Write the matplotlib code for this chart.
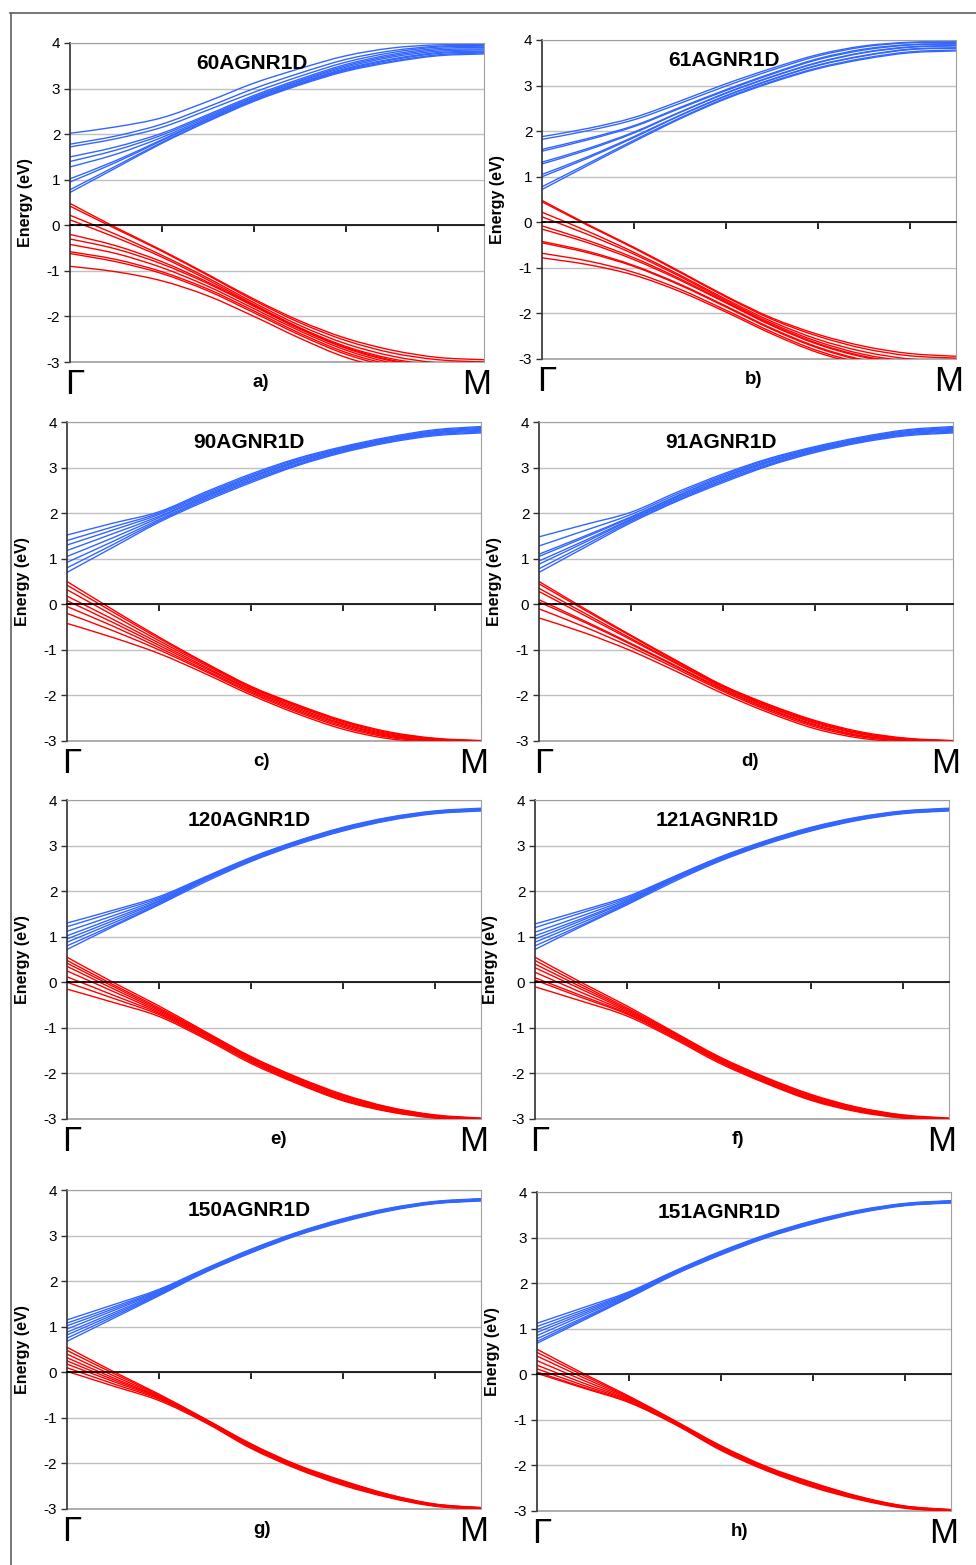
import numpy as np
import matplotlib
matplotlib.use("Agg")
from matplotlib import pyplot as plt
from matplotlib.lines import Line2D
from matplotlib.path import Path
from matplotlib.patches import PathPatch

plt.rcParams['font.family'] = ['Liberation Sans', 'DejaVu Sans']
plt.rcParams['axes.unicode_minus'] = False

# k-path sampling between Gamma and M (tick units)
k = [0.0, 0.5, 1.0, 1.5, 2.0, 2.5, 3.0, 3.5, 4.0, 4.5]

names = ['60AGNR1D', '61AGNR1D', '90AGNR1D', '91AGNR1D',
         '120AGNR1D', '121AGNR1D', '150AGNR1D', '151AGNR1D']
captions = ['a)', 'b)', 'c)', 'd)', 'e)', 'f)', 'g)', 'h)']

# conduction bands (eV), one row per subband
cond_60 = [
    [2.02, 2.16, 2.36, 2.72, 3.12, 3.44, 3.72, 3.89, 3.96, 3.97],
    [1.78, 1.96, 2.22, 2.60, 3.00, 3.34, 3.64, 3.83, 3.93, 3.95],
    [1.72, 1.90, 2.15, 2.53, 2.92, 3.27, 3.58, 3.79, 3.91, 3.93],
    [1.50, 1.72, 2.02, 2.43, 2.85, 3.21, 3.53, 3.75, 3.88, 3.90],
    [1.40, 1.65, 1.98, 2.40, 2.82, 3.18, 3.50, 3.72, 3.85, 3.87],
    [1.28, 1.56, 1.93, 2.37, 2.80, 3.16, 3.47, 3.69, 3.82, 3.85],
    [1.02, 1.42, 1.88, 2.34, 2.77, 3.13, 3.44, 3.65, 3.79, 3.82],
    [0.95, 1.38, 1.86, 2.33, 2.76, 3.12, 3.42, 3.63, 3.77, 3.80],
    [0.78, 1.30, 1.82, 2.30, 2.74, 3.10, 3.40, 3.60, 3.74, 3.78],
    [0.72, 1.26, 1.80, 2.28, 2.72, 3.08, 3.38, 3.58, 3.72, 3.76],
]
val_60 = [
    [0.48, -0.05, -0.55, -1.08, -1.62, -2.10, -2.48, -2.74, -2.90, -2.95],
    [0.42, -0.08, -0.57, -1.10, -1.65, -2.14, -2.53, -2.80, -2.95, -3.00],
    [0.22, -0.20, -0.66, -1.16, -1.70, -2.20, -2.60, -2.87, -3.02, -3.06],
    [0.12, -0.27, -0.70, -1.20, -1.74, -2.25, -2.66, -2.93, -3.07, -3.10],
    [-0.20, -0.45, -0.80, -1.25, -1.76, -2.26, -2.68, -2.96, -3.10, -3.14],
    [-0.30, -0.52, -0.85, -1.28, -1.78, -2.28, -2.70, -2.98, -3.12, -3.16],
    [-0.42, -0.62, -0.93, -1.34, -1.83, -2.32, -2.74, -3.02, -3.15, -3.18],
    [-0.58, -0.75, -1.02, -1.40, -1.88, -2.37, -2.79, -3.06, -3.18, -3.20],
    [-0.62, -0.80, -1.06, -1.44, -1.92, -2.41, -2.83, -3.10, -3.20, -3.22],
    [-0.90, -1.02, -1.22, -1.55, -2.00, -2.48, -2.90, -3.15, -3.24, -3.26],
]

cond_61 = [
    [1.88, 2.06, 2.30, 2.66, 3.04, 3.38, 3.68, 3.87, 3.95, 3.96],
    [1.82, 2.01, 2.25, 2.61, 2.99, 3.34, 3.65, 3.85, 3.94, 3.95],
    [1.60, 1.84, 2.12, 2.52, 2.91, 3.27, 3.59, 3.80, 3.90, 3.92],
    [1.56, 1.81, 2.10, 2.50, 2.89, 3.25, 3.57, 3.78, 3.89, 3.91],
    [1.32, 1.62, 1.98, 2.42, 2.84, 3.20, 3.51, 3.73, 3.85, 3.88],
    [1.28, 1.59, 1.96, 2.41, 2.83, 3.19, 3.50, 3.72, 3.84, 3.87],
    [1.05, 1.44, 1.88, 2.35, 2.78, 3.14, 3.45, 3.66, 3.80, 3.83],
    [1.00, 1.41, 1.86, 2.34, 2.77, 3.13, 3.44, 3.65, 3.79, 3.82],
    [0.78, 1.29, 1.80, 2.29, 2.73, 3.09, 3.39, 3.60, 3.74, 3.78],
    [0.72, 1.25, 1.77, 2.27, 2.71, 3.07, 3.37, 3.58, 3.72, 3.76],
]
val_61 = [
    [0.48, -0.05, -0.55, -1.08, -1.62, -2.10, -2.46, -2.72, -2.88, -2.94],
    [0.45, -0.07, -0.57, -1.10, -1.64, -2.13, -2.50, -2.77, -2.93, -2.98],
    [0.22, -0.20, -0.66, -1.16, -1.69, -2.18, -2.57, -2.84, -3.00, -3.04],
    [0.12, -0.27, -0.70, -1.19, -1.72, -2.22, -2.62, -2.90, -3.05, -3.08],
    [-0.08, -0.40, -0.78, -1.24, -1.75, -2.25, -2.66, -2.94, -3.08, -3.12],
    [-0.15, -0.45, -0.82, -1.27, -1.77, -2.27, -2.68, -2.96, -3.10, -3.14],
    [-0.42, -0.64, -0.95, -1.36, -1.84, -2.33, -2.74, -3.02, -3.14, -3.17],
    [-0.45, -0.67, -0.97, -1.38, -1.86, -2.35, -2.76, -3.04, -3.16, -3.19],
    [-0.68, -0.85, -1.10, -1.47, -1.93, -2.41, -2.82, -3.09, -3.20, -3.22],
    [-0.78, -0.93, -1.16, -1.52, -1.97, -2.45, -2.86, -3.12, -3.22, -3.24],
]

cond_90 = [
    [1.52, 1.78, 2.03, 2.46, 2.86, 3.20, 3.46, 3.67, 3.83, 3.90],
    [1.40, 1.70, 2.00, 2.43, 2.83, 3.18, 3.44, 3.65, 3.81, 3.88],
    [1.30, 1.63, 1.97, 2.40, 2.80, 3.15, 3.42, 3.63, 3.79, 3.86],
    [1.18, 1.55, 1.93, 2.37, 2.78, 3.13, 3.40, 3.62, 3.77, 3.84],
    [1.05, 1.46, 1.90, 2.35, 2.75, 3.11, 3.39, 3.60, 3.76, 3.82],
    [0.92, 1.38, 1.86, 2.32, 2.72, 3.08, 3.37, 3.58, 3.74, 3.80],
    [0.80, 1.31, 1.83, 2.29, 2.70, 3.06, 3.35, 3.57, 3.72, 3.78],
    [0.70, 1.25, 1.80, 2.26, 2.67, 3.04, 3.33, 3.55, 3.70, 3.76],
]
val_90 = [
    [0.50, -0.12, -0.72, -1.28, -1.80, -2.20, -2.55, -2.80, -2.94, -2.99],
    [0.42, -0.17, -0.75, -1.30, -1.82, -2.22, -2.57, -2.82, -2.95, -3.00],
    [0.32, -0.24, -0.80, -1.33, -1.84, -2.24, -2.59, -2.84, -2.96, -3.00],
    [0.18, -0.33, -0.85, -1.37, -1.87, -2.27, -2.62, -2.86, -2.97, -3.01],
    [0.08, -0.40, -0.90, -1.40, -1.89, -2.30, -2.64, -2.88, -2.98, -3.01],
    [-0.05, -0.48, -0.95, -1.44, -1.92, -2.33, -2.67, -2.90, -2.99, -3.02],
    [-0.20, -0.58, -1.00, -1.47, -1.95, -2.36, -2.70, -2.92, -3.00, -3.02],
    [-0.42, -0.73, -1.08, -1.52, -1.99, -2.40, -2.74, -2.95, -3.02, -3.03],
]

cond_91 = [
    [1.48, 1.75, 2.02, 2.46, 2.86, 3.20, 3.46, 3.67, 3.83, 3.90],
    [1.28, 1.62, 1.97, 2.42, 2.83, 3.18, 3.44, 3.65, 3.81, 3.88],
    [1.10, 1.50, 1.92, 2.38, 2.80, 3.15, 3.42, 3.63, 3.79, 3.86],
    [1.05, 1.47, 1.90, 2.36, 2.78, 3.13, 3.40, 3.62, 3.77, 3.84],
    [0.95, 1.40, 1.87, 2.33, 2.75, 3.11, 3.39, 3.60, 3.76, 3.82],
    [0.88, 1.36, 1.85, 2.31, 2.72, 3.08, 3.37, 3.58, 3.74, 3.80],
    [0.78, 1.30, 1.82, 2.28, 2.70, 3.06, 3.35, 3.57, 3.72, 3.78],
    [0.70, 1.25, 1.79, 2.26, 2.67, 3.04, 3.33, 3.55, 3.70, 3.76],
]
val_91 = [
    [0.50, -0.10, -0.68, -1.24, -1.78, -2.20, -2.55, -2.80, -2.94, -2.99],
    [0.45, -0.13, -0.70, -1.26, -1.79, -2.22, -2.57, -2.82, -2.95, -3.00],
    [0.35, -0.20, -0.75, -1.29, -1.81, -2.24, -2.59, -2.84, -2.96, -3.00],
    [0.28, -0.25, -0.78, -1.31, -1.83, -2.26, -2.61, -2.85, -2.97, -3.01],
    [0.10, -0.37, -0.86, -1.36, -1.86, -2.29, -2.64, -2.88, -2.98, -3.01],
    [0.05, -0.40, -0.88, -1.38, -1.88, -2.31, -2.66, -2.89, -2.99, -3.02],
    [-0.10, -0.50, -0.94, -1.42, -1.91, -2.34, -2.69, -2.91, -3.00, -3.02],
    [-0.30, -0.63, -1.02, -1.48, -1.96, -2.38, -2.73, -2.94, -3.02, -3.03],
]

cond_120 = [
    [1.30, 1.58, 1.88, 2.31, 2.74, 3.10, 3.40, 3.62, 3.76, 3.82],
    [1.22, 1.53, 1.85, 2.30, 2.73, 3.09, 3.39, 3.61, 3.75, 3.81],
    [1.12, 1.46, 1.82, 2.28, 2.72, 3.08, 3.38, 3.60, 3.74, 3.80],
    [1.02, 1.40, 1.79, 2.27, 2.70, 3.07, 3.37, 3.59, 3.73, 3.79],
    [0.95, 1.35, 1.77, 2.26, 2.69, 3.06, 3.36, 3.58, 3.73, 3.79],
    [0.88, 1.30, 1.74, 2.25, 2.68, 3.05, 3.35, 3.57, 3.72, 3.78],
    [0.80, 1.25, 1.72, 2.23, 2.66, 3.03, 3.33, 3.56, 3.71, 3.77],
    [0.72, 1.22, 1.70, 2.20, 2.65, 3.02, 3.32, 3.55, 3.70, 3.76],
]
val_120 = [
    [0.55, 0.00, -0.52, -1.08, -1.63, -2.08, -2.46, -2.74, -2.91, -2.98],
    [0.48, -0.05, -0.56, -1.10, -1.65, -2.10, -2.48, -2.75, -2.92, -2.99],
    [0.42, -0.09, -0.59, -1.12, -1.67, -2.12, -2.50, -2.77, -2.93, -2.99],
    [0.35, -0.14, -0.62, -1.14, -1.69, -2.14, -2.52, -2.78, -2.94, -3.00],
    [0.25, -0.20, -0.65, -1.16, -1.71, -2.16, -2.54, -2.80, -2.95, -3.00],
    [0.12, -0.28, -0.68, -1.19, -1.73, -2.18, -2.56, -2.81, -2.96, -3.01],
    [0.00, -0.35, -0.71, -1.21, -1.75, -2.20, -2.58, -2.83, -2.97, -3.01],
    [-0.15, -0.44, -0.75, -1.24, -1.78, -2.22, -2.60, -2.84, -2.98, -3.02],
]

cond_121 = [
    [1.28, 1.57, 1.88, 2.31, 2.74, 3.10, 3.40, 3.62, 3.76, 3.82],
    [1.20, 1.52, 1.85, 2.30, 2.73, 3.09, 3.39, 3.61, 3.75, 3.81],
    [1.10, 1.45, 1.82, 2.28, 2.72, 3.08, 3.38, 3.60, 3.74, 3.80],
    [1.02, 1.39, 1.79, 2.27, 2.70, 3.07, 3.37, 3.59, 3.73, 3.79],
    [0.95, 1.35, 1.77, 2.26, 2.69, 3.06, 3.36, 3.58, 3.73, 3.79],
    [0.88, 1.30, 1.74, 2.25, 2.68, 3.05, 3.35, 3.57, 3.72, 3.78],
    [0.80, 1.25, 1.72, 2.23, 2.66, 3.03, 3.33, 3.56, 3.71, 3.77],
    [0.72, 1.22, 1.70, 2.20, 2.65, 3.02, 3.32, 3.55, 3.70, 3.76],
]
val_121 = [
    [0.55, 0.00, -0.52, -1.08, -1.63, -2.08, -2.46, -2.74, -2.91, -2.98],
    [0.48, -0.05, -0.56, -1.10, -1.65, -2.10, -2.48, -2.75, -2.92, -2.99],
    [0.40, -0.10, -0.59, -1.12, -1.67, -2.12, -2.50, -2.77, -2.93, -2.99],
    [0.32, -0.15, -0.62, -1.14, -1.69, -2.14, -2.52, -2.78, -2.94, -3.00],
    [0.22, -0.22, -0.65, -1.16, -1.71, -2.16, -2.54, -2.80, -2.95, -3.00],
    [0.10, -0.29, -0.68, -1.19, -1.73, -2.18, -2.56, -2.81, -2.96, -3.01],
    [0.05, -0.33, -0.70, -1.20, -1.74, -2.19, -2.57, -2.82, -2.97, -3.01],
    [-0.10, -0.41, -0.74, -1.23, -1.77, -2.21, -2.59, -2.84, -2.98, -3.02],
]

cond_150 = [
    [1.15, 1.48, 1.82, 2.27, 2.70, 3.07, 3.37, 3.60, 3.75, 3.81],
    [1.08, 1.43, 1.80, 2.26, 2.69, 3.06, 3.36, 3.59, 3.74, 3.80],
    [1.02, 1.39, 1.78, 2.25, 2.68, 3.05, 3.35, 3.58, 3.74, 3.80],
    [0.95, 1.35, 1.76, 2.24, 2.67, 3.04, 3.34, 3.57, 3.73, 3.79],
    [0.88, 1.30, 1.74, 2.22, 2.65, 3.03, 3.33, 3.57, 3.72, 3.78],
    [0.82, 1.26, 1.72, 2.21, 2.64, 3.02, 3.32, 3.56, 3.71, 3.77],
    [0.75, 1.22, 1.70, 2.20, 2.63, 3.01, 3.31, 3.55, 3.71, 3.77],
    [0.68, 1.18, 1.68, 2.19, 2.62, 3.00, 3.30, 3.54, 3.70, 3.76],
]
val_150 = [
    [0.55, 0.02, -0.48, -1.02, -1.57, -2.03, -2.38, -2.68, -2.89, -2.97],
    [0.48, -0.02, -0.50, -1.03, -1.58, -2.04, -2.39, -2.69, -2.90, -2.97],
    [0.40, -0.07, -0.52, -1.04, -1.59, -2.05, -2.41, -2.70, -2.90, -2.98],
    [0.32, -0.12, -0.54, -1.05, -1.61, -2.07, -2.42, -2.71, -2.91, -2.98],
    [0.25, -0.16, -0.55, -1.06, -1.62, -2.08, -2.43, -2.72, -2.92, -2.99],
    [0.18, -0.20, -0.57, -1.07, -1.63, -2.09, -2.45, -2.73, -2.92, -2.99],
    [0.10, -0.25, -0.59, -1.08, -1.65, -2.10, -2.46, -2.74, -2.93, -3.00],
    [0.02, -0.30, -0.62, -1.10, -1.67, -2.12, -2.48, -2.75, -2.94, -3.00],
]

cond_151 = [
    [1.12, 1.46, 1.81, 2.27, 2.70, 3.07, 3.37, 3.60, 3.75, 3.81],
    [1.05, 1.41, 1.79, 2.26, 2.69, 3.06, 3.36, 3.59, 3.74, 3.80],
    [0.98, 1.37, 1.77, 2.25, 2.68, 3.05, 3.35, 3.58, 3.74, 3.80],
    [0.92, 1.33, 1.75, 2.24, 2.67, 3.04, 3.34, 3.57, 3.73, 3.79],
    [0.85, 1.29, 1.73, 2.22, 2.65, 3.03, 3.33, 3.57, 3.72, 3.78],
    [0.78, 1.24, 1.71, 2.21, 2.64, 3.02, 3.32, 3.56, 3.71, 3.77],
    [0.72, 1.21, 1.69, 2.20, 2.63, 3.01, 3.31, 3.55, 3.71, 3.77],
    [0.68, 1.18, 1.68, 2.19, 2.62, 3.00, 3.30, 3.54, 3.70, 3.76],
]
val_151 = [
    [0.55, 0.02, -0.48, -1.02, -1.57, -2.03, -2.38, -2.68, -2.89, -2.97],
    [0.48, -0.02, -0.50, -1.03, -1.58, -2.04, -2.39, -2.69, -2.90, -2.97],
    [0.40, -0.07, -0.52, -1.04, -1.59, -2.05, -2.41, -2.70, -2.90, -2.98],
    [0.30, -0.13, -0.54, -1.05, -1.61, -2.07, -2.42, -2.71, -2.91, -2.98],
    [0.20, -0.19, -0.56, -1.06, -1.62, -2.08, -2.44, -2.72, -2.92, -2.99],
    [0.12, -0.24, -0.58, -1.08, -1.63, -2.09, -2.45, -2.73, -2.92, -2.99],
    [0.05, -0.28, -0.60, -1.09, -1.65, -2.10, -2.46, -2.74, -2.93, -3.00],
    [0.02, -0.30, -0.62, -1.10, -1.67, -2.12, -2.48, -2.75, -2.94, -3.00],
]

# short dotted Fermi-level marker near Gamma
fermi_k = [0.0, 0.42]
fermi_e = [0.0, 0.0]

conduction = [cond_60, cond_61, cond_90, cond_91, cond_120, cond_121, cond_150, cond_151]
valence = [val_60, val_61, val_90, val_91, val_120, val_121, val_150, val_151]

W, H = 976, 1565
# plot-area corners in pixels (left, top) for each panel
corners = [(70, 43), (542, 40), (67, 422), (539, 422),
           (67, 800), (535, 800), (67, 1190), (537, 1192)]
ax_w, ax_h = 414, 319
caption_x = [0.46, 0.51, 0.47, 0.51, 0.51, 0.49, 0.47, 0.49]


def smooth_band(xs, ys):
    # smoothed line through the points (cubic Bezier segments, like a spreadsheet smooth line)
    pts = np.column_stack([xs, ys])
    n = len(pts)
    verts = [pts[0]]
    codes = [Path.MOVETO]
    for j in range(n - 1):
        p0 = pts[max(j - 1, 0)]
        p1 = pts[j]
        p2 = pts[j + 1]
        p3 = pts[min(j + 2, n - 1)]
        verts += [p1 + (p2 - p0) / 6.0, p2 - (p3 - p1) / 6.0, p2]
        codes += [Path.CURVE4] * 3
    return Path(verts, codes)


fig = plt.figure(figsize=(W / 100, H / 100), dpi=100)
fig.patch.set_facecolor('white')

# outer frame (top and left edges only)
fig.add_artist(Line2D([10 / W, 1.0], [1 - 13 / H, 1 - 13 / H], color='#606060', lw=1.2))
fig.add_artist(Line2D([11 / W, 11 / W], [0.0, 1 - 13 / H], color='#606060', lw=1.2))

blue = '#3366ff'
red = '#ff0000'

for i in range(8):
    x0, y0 = corners[i]
    ax = fig.add_axes([x0 / W, 1 - (y0 + ax_h) / H, ax_w / W, ax_h / H])

    for band in conduction[i]:
        ax.add_patch(PathPatch(smooth_band(k, band), facecolor='none',
                               edgecolor=blue, lw=1.0, zorder=2))
    for band in valence[i]:
        ax.add_patch(PathPatch(smooth_band(k, band), facecolor='none',
                               edgecolor=red, lw=1.0, zorder=2))
    ax.plot(fermi_k, fermi_e, color='black', lw=1.3, ls=(0, (2, 2)), zorder=3)

    ax.set_xlim(0, 4.5)
    ax.set_ylim(-3, 4)
    ax.set_yticks(range(-3, 5))
    ax.set_xticks([1, 2, 3, 4])
    ax.set_xticklabels([])
    ax.yaxis.grid(True, color='#c0c0c0', lw=1.0, zorder=0)
    ax.set_axisbelow(True)

    # category axis crosses at zero like a spreadsheet chart
    ax.spines['bottom'].set_position(('data', 0))
    ax.spines['bottom'].set_color('black')
    ax.spines['bottom'].set_linewidth(1.2)
    ax.spines['left'].set_color('#303030')
    ax.spines['left'].set_linewidth(1.2)
    ax.spines['top'].set_color('#a0a0a0')
    ax.spines['right'].set_color('#a0a0a0')
    ax.axhline(-3, color='#a0a0a0', lw=1.2, clip_on=False, zorder=1)

    ax.tick_params(axis='x', direction='out', length=5, width=1.2, color='black')
    ax.tick_params(axis='y', direction='out', length=4, width=1.0, color='#303030',
                   labelsize=11, pad=3)

    ax.set_ylabel('Energy (eV)', fontsize=11.5, fontweight='bold')
    ax.yaxis.set_label_coords(-0.09, 0.5)

    ax.text(0.44, 0.937, names[i], transform=ax.transAxes, ha='center', va='center',
            fontsize=15, fontweight='bold')
    ax.text(caption_x[i], -0.063, captions[i], transform=ax.transAxes, ha='center',
            va='center', fontsize=13.5, fontweight='bold')
    ax.text(0.012, -0.072, 'Γ', transform=ax.transAxes, ha='center', va='center',
            fontsize=25)
    ax.text(0.983, -0.072, 'M', transform=ax.transAxes, ha='center', va='center',
            fontsize=25)

fig.savefig('out.png', dpi=100)
